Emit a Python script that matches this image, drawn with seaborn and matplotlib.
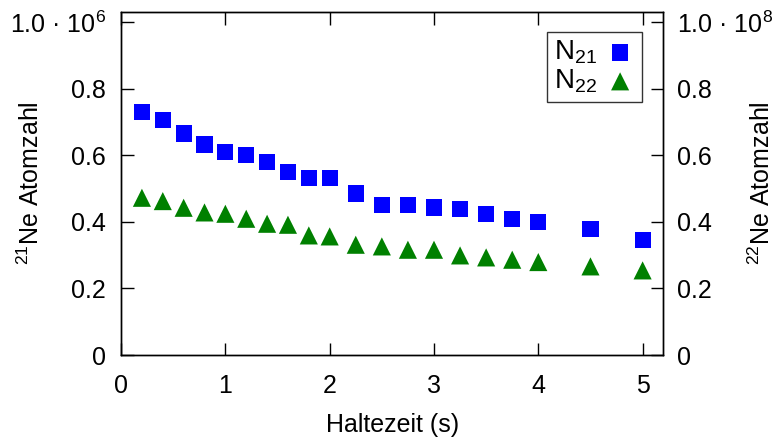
import numpy as np
import pandas as pd

import matplotlib as mpl
mpl.use("Agg")
import matplotlib.pyplot as plt
from matplotlib.ticker import FuncFormatter

import seaborn as sns

zeit = [0.2, 0.4, 0.6, 0.8, 1.0, 1.2, 1.4, 1.6, 1.8, 2.0,
        2.25, 2.5, 2.75, 3.0, 3.25, 3.5, 3.75, 4.0, 4.5, 5.0]
n21 = [0.730, 0.705, 0.665, 0.632, 0.610, 0.600, 0.580, 0.550, 0.532, 0.532,
       0.485, 0.450, 0.450, 0.443, 0.438, 0.423, 0.408, 0.398, 0.377, 0.345]   # x 1e6
n22 = [0.472, 0.462, 0.442, 0.428, 0.424, 0.409, 0.394, 0.391, 0.359, 0.356,
       0.331, 0.326, 0.316, 0.316, 0.299, 0.293, 0.286, 0.279, 0.266, 0.254]   # x 1e8
yticks = [0, 0.2, 0.4, 0.6, 0.8, 1.0]

df = pd.DataFrame({"zeit": zeit, "n21": n21, "n22": n22})

sns.set_style("ticks")
plt.rcParams['font.family'] = ['Liberation Sans', 'DejaVu Sans']
plt.rcParams['mathtext.fontset'] = 'custom'
plt.rcParams['mathtext.rm'] = 'Liberation Sans'
plt.rcParams['mathtext.it'] = 'Liberation Sans:italic'
plt.rcParams['font.size'] = 18
for k in ('text.color', 'axes.labelcolor', 'xtick.color', 'ytick.color',
          'xtick.labelcolor', 'ytick.labelcolor', 'axes.edgecolor'):
    plt.rcParams[k] = 'black'

FS = 18

def fmt(exp):
    def f(v, pos):
        if abs(v) < 1e-9:
            return "0"
        if abs(v - 1.0) < 1e-9:
            return "1.0 \u00b7 10$^{%d}$" % exp
        return "%.1f" % v
    return FuncFormatter(f)

fig = plt.figure(figsize=(7.76, 4.41), dpi=100)
ax = fig.add_axes([0.156, 0.195, 0.699, 0.778])
ax2 = ax.twinx()

sns.scatterplot(data=df, x="zeit", y="n21", ax=ax, marker="s", s=135,
                color="#0000ff", edgecolor="none", label="N$_{21}$", legend=False)
sns.scatterplot(data=df, x="zeit", y="n22", ax=ax2, marker="^", s=170,
                color="#008000", edgecolor="none", label="N$_{22}$", legend=False)

for a, e in ((ax, 6), (ax2, 8)):
    a.set_ylim(0, 1.03)
    a.set_yticks(yticks)
    a.yaxis.set_major_formatter(fmt(e))
    for s in a.spines.values():
        s.set_linewidth(1.0)
        s.set_color("black")
ax.set_xlim(0, 5.2)
ax.set_xticks([0, 1, 2, 3, 4, 5])
ax.tick_params(axis="x", direction="in", length=9, width=1, top=True, labelsize=FS, pad=14)
ax.tick_params(axis="y", direction="in", length=9, width=1, labelsize=FS, pad=11)
ax2.tick_params(axis="y", direction="in", length=9, width=1, labelsize=FS, pad=10)

ax.set_xlabel("Haltezeit (s)", fontsize=FS)
ax.xaxis.set_label_coords(0.5, -0.168)
ax.set_ylabel("$^{21}$Ne Atomzahl", fontsize=FS)
ax.yaxis.set_label_coords(-0.142, 0.5)
ax2.set_ylabel("$^{22}$Ne Atomzahl", fontsize=FS)
ax2.yaxis.set_label_coords(1.157, 0.5)

h1, l1 = ax.get_legend_handles_labels()
h2, l2 = ax2.get_legend_handles_labels()
leg = ax2.legend(h1 + h2, l1 + l2, loc="upper right", markerfirst=False,
                 fontsize=20, frameon=True, fancybox=False, handletextpad=0.3,
                 borderpad=0.25, labelspacing=0.05, handlelength=1.1,
                 bbox_to_anchor=(0.961, 0.942), borderaxespad=0)
leg.get_frame().set_edgecolor("black")
leg.get_frame().set_linewidth(1.0)

fig.savefig("out.png", dpi=100)
